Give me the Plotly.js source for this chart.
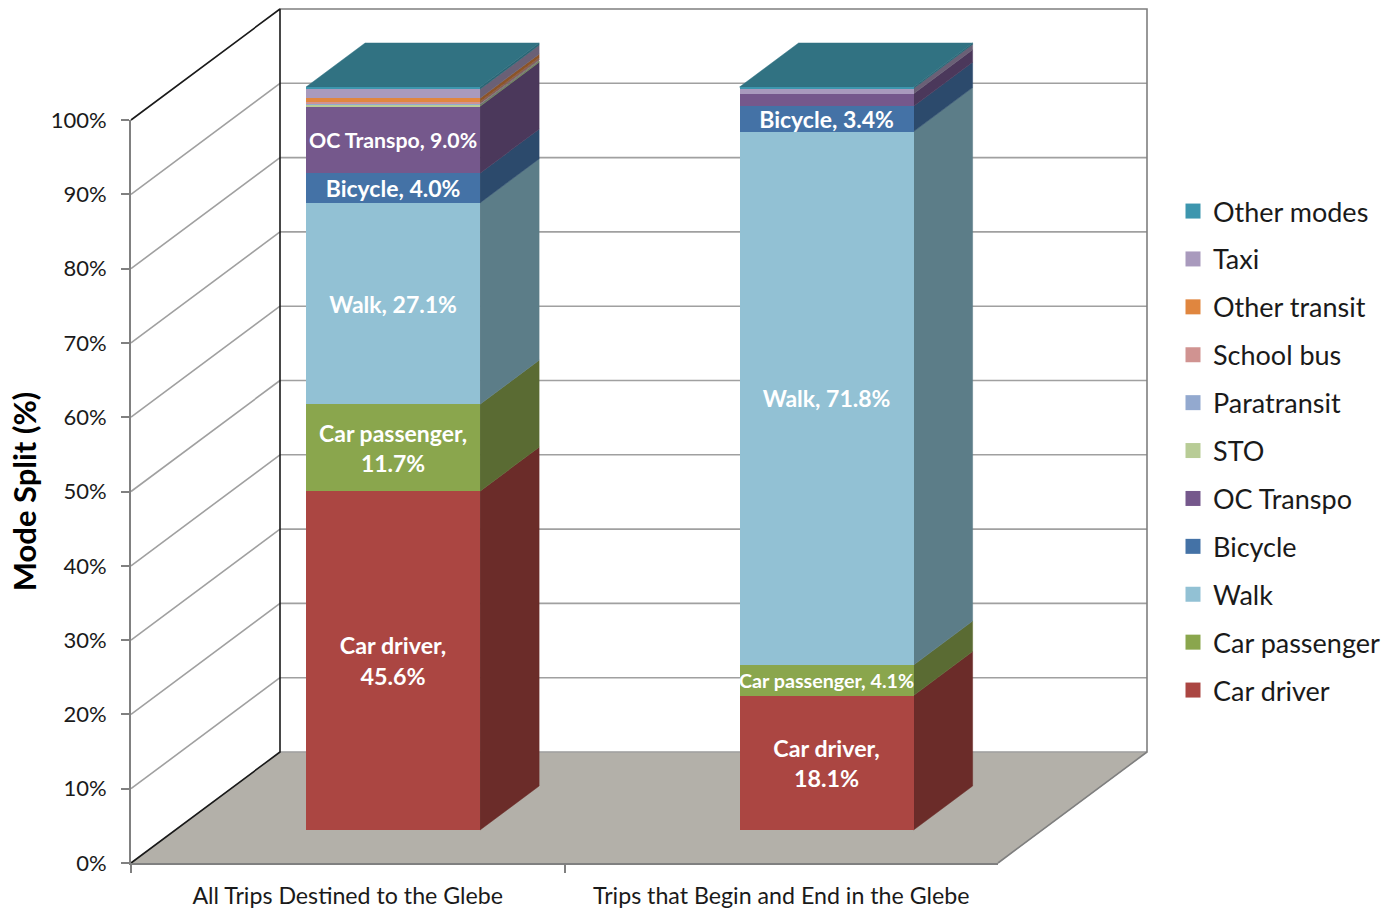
<!DOCTYPE html>
<html><head><meta charset="utf-8">
<script src="https://cdn.plot.ly/plotly-3.0.0.min.js"></script>
<style>html,body{margin:0;padding:0;background:#fff;overflow:hidden}</style>
</head><body><div id="chart" style="width:1388px;height:910px"></div>
<script>
const categories = ['All Trips Destined to the Glebe', 'Trips that Begin and End in the Glebe'];
const modeNames = ['Car driver','Car passenger','Walk','Bicycle','OC Transpo','STO','Paratransit','School bus','Other transit','Taxi','Other modes'];
const carDriver    = [45.6, 18.1];
const carPassenger = [11.7, 4.1];
const walk         = [27.1, 71.8];
const bicycle      = [4.0, 3.4];
const ocTranspo    = [9.0, 1.7];
const sto          = [0.2, 0.0];
const paratransit  = [0.1, 0.0];
const schoolBus    = [0.3, 0.0];
const otherTransit = [0.5, 0.0];
const taxi         = [1.2, 0.7];
const otherModes   = [0.3, 0.2];
const frontColors = ['#AB4642','#8AA64D','#92C1D4','#4472A6','#75588C','#B8CC96','#93A9CF','#D09391','#E0863F','#A99ABD','#3D96AE'];
const sideColors  = ['#6B2C29','#5A6B33','#5C7D88','#2C4A6C','#4B385B','#70805C','#5C6A82','#82605E','#8C5428','#6A6076','#2A6575'];
const topColor = '#317282';
const yTicks = [0,10,20,30,40,50,60,70,80,90,100];
const labels = [
  ['Car driver,<br>45.6%','Car driver,<br>18.1%'],
  ['Car passenger,<br>11.7%','Car passenger, 4.1%'],
  ['Walk, 27.1%','Walk, 71.8%'],
  ['Bicycle, 4.0%','Bicycle, 3.4%'],
  ['OC Transpo, 9.0%',''],
  ['',''],['',''],['',''],['',''],['',''],['','']
];
const labelSizes = [[23.3,23.3],[23,19.7],[23,23],[23,23],[21.3,22],[22,22],[22,22],[22,22],[22,22],[22,22],[22,22]];
const series = [carDriver,carPassenger,walk,bicycle,ocTranspo,sto,paratransit,schoolBus,otherTransit,taxi,otherModes];

// layout geometry in px
const W=1388,H=910, L=131,R=998,B=863,T=120;
const uX=(R-L)/2, uY=(B-T)/100;
const backDX=149/uX, backDY=111/uY;
const dFront=33/111, dBack=77/111, halfBar=87/uX, nudge=1/uX;
const pxX=p=>-0.5+(p-L)/uX, pxY=p=>(B-p)/uY;
const proj=(x,y,d)=>[x+d*backDX,y+d*backDY];
const FONT='Lato, "Open Sans", sans-serif';

function lineTrace(segs,color,width){
  const xs=[],ys=[];
  segs.forEach(s=>{s.forEach(p=>{xs.push(p[0]);ys.push(p[1]);});xs.push(null);ys.push(null);});
  return {type:'scatter',mode:'lines',x:xs,y:ys,line:{color,width},hoverinfo:'skip',showlegend:false,xaxis:'x',yaxis:'y'};
}
function polyTrace(polys,color){
  const xs=[],ys=[];
  polys.forEach(s=>{s.forEach(p=>{xs.push(p[0]);ys.push(p[1]);});xs.push(s[0][0]);ys.push(s[0][1]);xs.push(null);ys.push(null);});
  return {type:'scatter',mode:'lines',x:xs,y:ys,fill:'toself',fillcolor:color,line:{color:color,width:0.5},hoverinfo:'skip',showlegend:false,xaxis:'x',yaxis:'y'};
}
const traces=[];
// floor
traces.push(polyTrace([[proj(-0.5,0,0),proj(1.5,0,0),proj(1.5,0,1),proj(-0.5,0,1)]],'#B3B0A9'));
// grid on back wall and left wall
traces.push(lineTrace(yTicks.slice(0,-1).map(t=>[proj(-0.5,t,1),proj(1.5,t,1)]),'#A0A0A0',1.6));
traces.push(lineTrace(yTicks.slice(1,-1).map(t=>[proj(-0.5,t,0),proj(-0.5,t,1)]),'#A0A0A0',1.6));
traces.push(lineTrace([[proj(-0.5,100,1),proj(1.5,100,1),proj(1.5,0,1),proj(1.5,0,0)]],'#7F7F7F',1.6));
traces.push(lineTrace([[proj(-0.5,100,0),proj(-0.5,100,1),proj(-0.5,0,1),proj(-0.5,0,0)]],'#1A1A1A',1.6));
// bar side and top faces
const cum=[0,0];
series.forEach((vals,i)=>{
  const polys=[];
  vals.forEach((v,c)=>{
    if(v<=0) return;
    const x=c+halfBar+nudge,lo=cum[c],hi=cum[c]+v;
    polys.push([proj(x,lo,dFront),proj(x,lo,dBack),proj(x,hi,dBack),proj(x,hi,dFront)]);
    cum[c]=hi;
  });
  traces.push(polyTrace(polys,sideColors[i]));
});
traces.push(polyTrace(categories.map((_,c)=>[
  proj(c-halfBar+nudge,cum[c],dFront),proj(c+halfBar+nudge,cum[c],dFront),proj(c+halfBar+nudge,cum[c],dBack),proj(c-halfBar+nudge,cum[c],dBack)]),topColor));
// invisible trace that owns the visible front axes
traces.push({type:'scatter',mode:'markers',x:categories,y:[0,0],marker:{opacity:0},hoverinfo:'skip',showlegend:false,xaxis:'x2',yaxis:'y2'});
// bar front faces
series.forEach((vals,i)=>{
  traces.push({type:'bar',name:modeNames[i],x:categories,y:vals,xaxis:'x3',yaxis:'y3',showlegend:false,
    marker:{color:frontColors[i],line:{width:0}},
    text:labels[i],texttemplate:'%{text}',textposition:'inside',insidetextanchor:'middle',textangle:0,constraintext:'none',
    insidetextfont:{family:FONT,color:'#FFFFFF',size:labelSizes[i],weight:700},hovertemplate:'%{fullData.name}: %{y}%<extra></extra>'});
});
// legend keys
series.forEach((vals,i)=>{
  traces.push({type:'scatter',mode:'markers',name:modeNames[i],x:[null],y:[null],xaxis:'x3',yaxis:'y3',
    marker:{symbol:'square',size:15,color:frontColors[i]},legendgroup:modeNames[i],legendrank:100-i,hoverinfo:'skip'});
});
const layout={
  width:W,height:H,margin:{l:0,r:0,t:0,b:0},paper_bgcolor:'#fff',plot_bgcolor:'rgba(0,0,0,0)',
  font:{family:FONT,color:'#1A1A1A'},barmode:'stack',bargap:1-174/uX,
  xaxis:{domain:[0,1],range:[pxX(0),pxX(W)],visible:false,fixedrange:true},
  yaxis:{domain:[0,1],range:[pxY(H),pxY(0)],visible:false,fixedrange:true},
  xaxis2:{domain:[L/W,R/W],type:'category',categoryorder:'array',categoryarray:categories,range:[-0.5,1.5],anchor:'y2',
    tickson:'boundaries',ticks:'outside',ticklen:8,tickcolor:'#808080',tickwidth:1.8,showgrid:false,zeroline:false,ticklabelstandoff:11,
    showline:true,linecolor:'#808080',linewidth:1.8,tickfont:{size:23.2,family:FONT,color:'#1A1A1A'}},
  yaxis2:{domain:[(H-B)/H,(H-T)/H],range:[0,100],anchor:'x2',tickvals:yTicks,ticktext:yTicks.map(t=>t+'%'),
    ticks:'outside',ticklen:8,tickcolor:'#808080',tickwidth:1.8,showgrid:false,zeroline:false,ticklabelstandoff:10,
    showline:true,linecolor:'#808080',linewidth:1.8,tickfont:{size:22,family:FONT,color:'#1A1A1A'},
    title:{text:'<b>Mode Split (%)</b>',font:{size:31,family:FONT,color:'#000'},standoff:5}},
  xaxis3:{domain:[(L+45.3)/W,(R+45.3)/W],type:'category',categoryorder:'array',categoryarray:categories,range:[-0.5,1.5],anchor:'y3',visible:false},
  yaxis3:{domain:[(H-B+33)/H,(H-T+33)/H],range:[0,100],anchor:'x3',visible:false},
  showlegend:true,
  legend:{x:1173/W,xanchor:'left',y:(H-187)/H,yanchor:'top',traceorder:'grouped',tracegroupgap:9.8,
    font:{size:27,family:FONT,color:'#1A1A1A'},bgcolor:'rgba(0,0,0,0)',itemclick:false,itemdoubleclick:false}
};
Plotly.newPlot('chart',traces,layout,{displayModeBar:false});
</script></body></html>
